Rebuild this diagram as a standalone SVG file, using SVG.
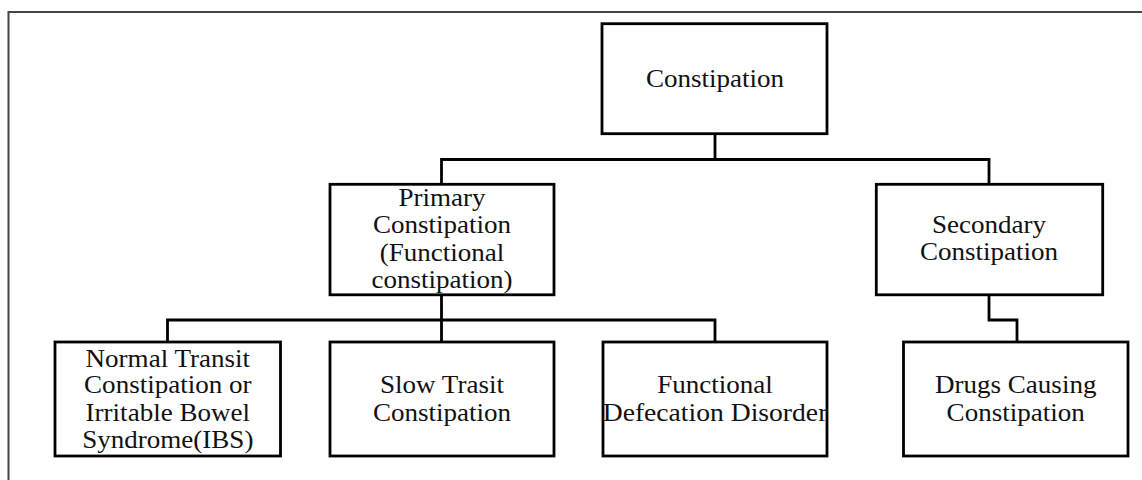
<svg xmlns="http://www.w3.org/2000/svg" width="1142" height="480" viewBox="0 0 1142 480">
<style>
.box{fill:#fff;stroke:#000;stroke-width:2.8}
.con{fill:none;stroke:#000;stroke-width:2.8;stroke-linejoin:miter}
.frame{fill:none;stroke:#444;stroke-width:2}
text{font-family:"Liberation Serif","Times New Roman",serif;font-size:26px;fill:#111;text-anchor:middle}
</style>
<rect width="1142" height="480" fill="#fff"/>
<path class="frame" d="M8.5,480 V12 H1142"/>
<g id="connectors">
<path class="con" d="M715,134 V159.5 M441.5,184 V159.5 H989 V184"/>
<path class="con" d="M441.5,295 V342 M167.5,342 V320 H715 V342"/>
<path class="con" d="M989,295 V320 H1017 V342"/>
</g>
<g id="n-constipation">
<rect class="box" x="602" y="23.7" width="225" height="110"/>
<text transform="translate(715 0) scale(1.04 1)" x="0" y="87">Constipation</text>
</g>
<g id="n-primary">
<rect class="box" x="330" y="184.3" width="224" height="110.5"/>
<g transform="translate(442 0) scale(1.04 1)">
<text x="0" y="206.5">Primary</text>
<text x="0" y="233.5">Constipation</text>
<text x="0" y="261">(Functional</text>
<text x="0" y="288.5">constipation)</text>
</g>
</g>
<g id="n-secondary">
<rect class="box" x="876.3" y="184.3" width="226.4" height="110.5"/>
<g transform="translate(989 0) scale(1.04 1)">
<text x="0" y="233.3">Secondary</text>
<text x="0" y="260.5">Constipation</text>
</g>
</g>
<g id="n-normal">
<rect class="box" x="55" y="342" width="225.5" height="114"/>
<g transform="translate(167.8 0) scale(1.04 1)">
<text x="0" y="366.7">Normal Transit</text>
<text x="0" y="393.3">Constipation or</text>
<text x="0" y="420.7">Irritable Bowel</text>
<text x="0" y="448.3">Syndrome(IBS)</text>
</g>
</g>
<g id="n-slow">
<rect class="box" x="330" y="342" width="224" height="114"/>
<g transform="translate(442 0) scale(1.04 1)">
<text x="0" y="393.3">Slow Trasit</text>
<text x="0" y="420.7">Constipation</text>
</g>
</g>
<g id="n-functional">
<rect class="box" x="603" y="342" width="224" height="114"/>
<g transform="translate(715 0) scale(1.04 1)">
<text x="0" y="393.3">Functional</text>
<text x="0" y="420.7" textLength="216" lengthAdjust="spacingAndGlyphs">Defecation Disorder</text>
</g>
</g>
<g id="n-drugs">
<rect class="box" x="903.5" y="342" width="224.5" height="114"/>
<g transform="translate(1015.7 0) scale(1.04 1)">
<text x="0" y="393.3">Drugs Causing</text>
<text x="0" y="420.7">Constipation</text>
</g>
</g>
</svg>
